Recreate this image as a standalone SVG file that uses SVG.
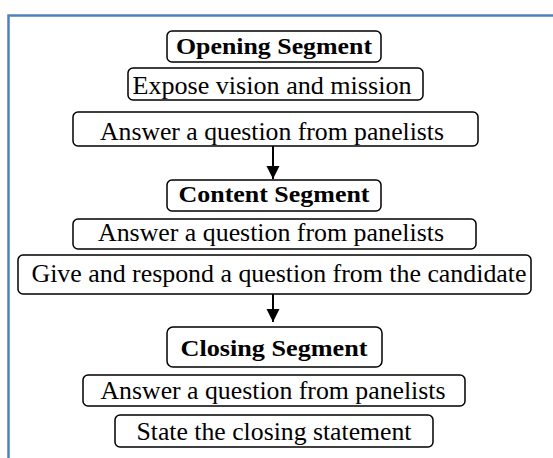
<svg xmlns="http://www.w3.org/2000/svg" width="553" height="458" viewBox="0 0 553 458">
<style>
.box{fill:#fff;stroke:#000;stroke-width:1.5}
.t{font-family:"Liberation Serif","Times New Roman",serif;font-size:25px;fill:#000;text-anchor:middle}
.b{font-weight:bold;font-size:24px}
.c{stroke:#000;stroke-width:2;fill:none}
</style>
<defs>
<marker id="ah" viewBox="0 0 10 10" refX="10" refY="5" markerWidth="13" markerHeight="14" markerUnits="userSpaceOnUse" orient="auto">
<path d="M0,0 L10,5 L0,10 Z" fill="#000"/>
</marker>
</defs>
<rect x="0" y="0" width="553" height="458" fill="#fff"/>
<rect x="8.5" y="15.5" width="560" height="460" fill="none" stroke="#4F81BD" stroke-width="2.5"/>
<g id="connectors">
<line class="c" x1="273" y1="146" x2="273" y2="179" marker-end="url(#ah)"/>
<line class="c" x1="273" y1="294" x2="273" y2="322" marker-end="url(#ah)"/>
</g>
<g id="opening">
<rect class="box" x="167" y="31" width="214" height="31" rx="5"/>
<text class="t b" x="274" y="54" textLength="196" lengthAdjust="spacingAndGlyphs">Opening Segment</text>
</g>
<g id="expose">
<rect class="box" x="128" y="68" width="295" height="32" rx="5"/>
<text class="t" x="272" y="94" textLength="279" lengthAdjust="spacingAndGlyphs">Expose vision and mission</text>
</g>
<g id="answer1">
<rect class="box" x="73" y="112" width="405" height="34" rx="5"/>
<text class="t" x="272" y="140" textLength="344" lengthAdjust="spacingAndGlyphs">Answer a question from panelists</text>
</g>
<g id="content">
<rect class="box" x="167" y="180" width="214" height="31" rx="5"/>
<text class="t b" x="274" y="202" textLength="191" lengthAdjust="spacingAndGlyphs">Content Segment</text>
</g>
<g id="answer2">
<rect class="box" x="73" y="219" width="403" height="30" rx="5"/>
<text class="t" x="271" y="241" textLength="346" lengthAdjust="spacingAndGlyphs">Answer a question from panelists</text>
</g>
<g id="give">
<rect class="box" x="18" y="255" width="513" height="39" rx="5"/>
<text class="t" x="279" y="282" textLength="495" lengthAdjust="spacingAndGlyphs">Give and respond a question from the candidate</text>
</g>
<g id="closing">
<rect class="box" x="167" y="327" width="215" height="40" rx="6"/>
<text class="t b" x="274" y="356" textLength="187" lengthAdjust="spacingAndGlyphs">Closing Segment</text>
</g>
<g id="answer3">
<rect class="box" x="83" y="375" width="382" height="31" rx="5"/>
<text class="t" x="273" y="399" textLength="345" lengthAdjust="spacingAndGlyphs">Answer a question from panelists</text>
</g>
<g id="state">
<rect class="box" x="115" y="415" width="318" height="32" rx="5"/>
<text class="t" x="274" y="440" textLength="275" lengthAdjust="spacingAndGlyphs">State the closing statement</text>
</g>
</svg>
